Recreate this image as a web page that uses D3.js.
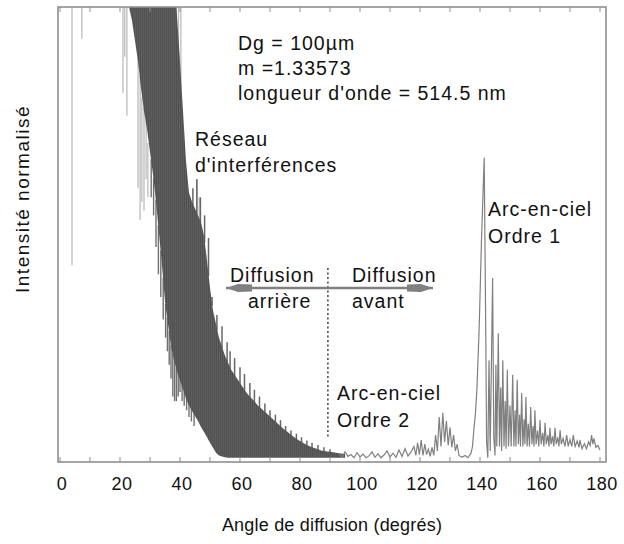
<!DOCTYPE html>
<html><head><meta charset="utf-8">
<script src="https://cdn.jsdelivr.net/npm/d3@7"></script>
<style>
body{margin:0;background:#fff}
svg{display:block}
text{font-family:"Liberation Sans",Arial,sans-serif;fill:#111}
</style>
</head><body>
<svg id="c" width="624" height="544"></svg>
<script>
// ---------- data ----------
const xTickLabels = [0,20,40,60,80,100,120,140,160,180];
const xMinorTicks = [10,30,50,70,90,110,130,150,170];

// dense interference band (upper / lower envelope, normalised intensity 0-100)
const bandAngle = [23,24,25,26,27,28,29,30,31,32,33,34,35,36,37,38,39,40,41,42,43,44,45,46,47,48,49,50,
  51,52,53,54,55,56,57,58,59,60,61,62,63,64,65,66,67,68,69,70,71,72,73,74,75,76,77,78,79,80,
  81,82,83,84,85,86,87,88,89,90,91,92,93,94,95];
const bandHigh = [102,130,140,150,150,150,150,150,150,150,150,145,140,135,125,112,98,88,77,66,59,57,55.5,54,52.5,49.5,44,38,
  33,30,27,25,23,21.5,20,19,18,17,16,15,14.2,13.5,12.8,12.0,11.4,10.8,10.2,9.6,9.0,8.4,7.8,7.2,6.6,6.1,5.6,5.1,4.6,4.2,
  3.8,3.4,3.1,2.8,2.6,2.4,2.1,2.0,1.9,1.8,1.7,1.6,1.5,1.4,1.3];
const bandLow = [100,97,92.5,88,82,77,73,68,63,57,50,43,35,30,25,22,19.5,17.5,15.5,13.5,12,10.8,9.7,8.6,7.3,6.2,5,3.8,
  2.7,1.6,1.0,0.8,0.6,0.5,0.5,0.5,0.5,0.5,0.5,0.5,0.5,0.5,0.5,0.5,0.5,0.5,0.5,0.5,0.5,0.5,0.5,0.5,0.5,0.5,0.5,0.5,0.5,0.5,
  0.5,0.5,0.5,0.5,0.5,0.5,0.5,0.5,0.5,0.5,0.5,0.5,0.5,0.5,0.5];

// fringe tips rising above the band's upper edge
const tipAngle = [44.3,45.6,46.8,48.2,49.5,50.7,52.3,54.0,55.7,56.7,58.2,60.0,61.5,63.3,64.8,66.5,68.3,70.0,71.8,73.5,
  75.2,77.0,78.8,80.5,82.3,84.0,86.0,88.0,90.0];
const tipValue = [60,62,58,54,49,36,32,29.5,26,24,22.5,20.5,19,17,15.5,14,12.5,11,10,8.8,
  7.5,6.5,5.8,5.0,4.3,3.8,3.3,2.8,2.4];

// fringe tips hanging below the band's lower edge
const dropAngle = [30.4,31.2,32.0,32.8,33.6,34.4,35.2,35.8,36.4,37.0,37.6,38.2,38.8,39.4,40.0,40.7,41.4,42.2,43.0,43.8,44.7];
const dropValue = [58,54,47,41,36,31,27,24,21,18,14,13,13,14,15,13,12,11,9.5,8.5,7.5];

// light isolated fringes
const lightSpikeAngle = [4.0,7.3,21.0,21.6,22.3,26.0,26.7,27.3,28.0,28.7,29.3,39.5,40.3,45.7,46.4];
const lightSpikeLow   = [43,93,81,89,76,60,53,57,55,62,58,80,75,50,50];
const lightSpikeHigh  = [120,120,120,120,120,90,85,80,78,75,70,105,105,62,58];

// trace from the tail to 180° (rainbows of order 2 and 1)
const traceAngle = [93,94,95,96,97,98,99,100,101,102,103,104,105,106,107,108,109,110,111,112,113,114,115,116,117,118,
  118.6,119.2,119.8,120.4,121,121.6,122.2,122.8,123.4,124,124.6,125.2,125.8,126.4,127,127.6,128.2,128.8,129.4,130,
  130.6,131.2,131.8,132.4,133,134,135,136,137,137.5,138,138.5,139,139.3,139.7,140,140.5,141.4,141.9,142.2,142.6,
  143.0,143.4,144.2,144.6,145.0,145.3,145.6,146.1,146.5,146.9,147.2,147.6,148,148.4,148.7,149.1,149.5,150.0,150.4,
  150.9,151.3,151.7,152.0,152.4,152.8,153.2,153.5,153.9,154.3,154.7,155,155.3,155.7,156.1,156.5,156.9,157.3,157.7,
  158,158.3,158.7,159.2,159.6,160,160.4,160.9,161.3,161.7,162.1,162.6,163,163.3,163.7,164.2,164.6,165,165.4,165.9,
  166.3,166.7,167.1,167.7,168.3,168.9,169.4,170,170.6,171.1,171.7,172.4,173,173.3,174,174.8,175.5,176.2,176.7,177.2,
  177.6,178,178.6,179.3,180];
const traceValue = [1.5,0.6,1.8,0.8,1.2,0.5,1.6,0.7,1.3,0.5,0.9,1.8,0.6,1.4,0.5,1.1,2.0,0.7,1.5,0.6,2.2,0.8,2.5,0.9,1.8,3.0,
  1.0,3.8,1.2,4.4,1.0,3.5,1.2,2.4,0.8,2.8,1.0,5.5,2.0,9.5,3.0,10.4,4.0,8.6,3.2,7.2,
  2.8,5.5,2.0,3.5,1.0,0.6,1.0,0.5,1.5,3,7,10.5,16,21.4,28.7,36,48.6,66.7,30,4,0.5,
  22,2,40.2,5,1,21,3,28,3,16,2,22,3,13,2.5,19.9,3,12,3,
  18.8,3,11,3,17.7,3.5,10,3,14.8,3,9,3.5,13.9,3,8,3,11.7,3.5,7.5,
  3,11,3.5,6.5,3,8.8,3.5,6,3,8.2,3.5,5.5,3,7.1,3.5,5.2,3,7.1,3.5,5,
  3,6.6,3.5,4.8,3,5.5,3,4.5,3,5.5,3,4.2,2.8,4.4,2.5,3.6,2.5,4.0,3.2,5.5,
  3.5,4.8,2.8,3.2,2.2];

// ---------- layout ----------
const svg = d3.select("#c");
const frame = {left:58, right:606, top:7, bottom:462};
const x = d3.scaleLinear().domain([0,180]).range([60,600]);
const y = d3.scaleLinear().domain([0,100]).range([460,7]);

const defs = svg.append("defs");
defs.append("clipPath").attr("id","clip").append("rect")
  .attr("x",frame.left).attr("y",frame.top).attr("width",frame.right-frame.left).attr("height",frame.bottom-frame.top);
const pat = defs.append("pattern").attr("id","stripes").attr("patternUnits","userSpaceOnUse")
  .attr("width",2).attr("height",4);
pat.append("rect").attr("width",2).attr("height",4).attr("fill","#5e5e5e");
pat.append("rect").attr("width",1).attr("height",4).attr("fill","#505050");

const plot = svg.append("g").attr("clip-path","url(#clip)");

// light spikes
plot.selectAll("line.ls").data(lightSpikeAngle).join("line").attr("class","ls")
  .attr("x1",d=>x(d)).attr("x2",d=>x(d))
  .attr("y1",(d,i)=>y(lightSpikeLow[i])).attr("y2",(d,i)=>y(lightSpikeHigh[i]))
  .attr("stroke","#b8b8b8").attr("stroke-width",1.2);

const band = bandAngle.map((a,i)=>({a, hi:bandHigh[i], lo:bandLow[i]}));
const hiAt = a => d3.scaleLinear().domain(bandAngle).range(bandHigh)(a);
const loAt = a => d3.scaleLinear().domain(bandAngle).range(bandLow)(a);

// fringe tips (drawn under the band)
plot.selectAll("line.tp").data(tipAngle).join("line").attr("class","tp")
  .attr("x1",d=>x(d)).attr("x2",d=>x(d))
  .attr("y1",d=>y(hiAt(d))+2).attr("y2",(d,i)=>y(tipValue[i]))
  .attr("stroke","#666").attr("stroke-width",1.5);
plot.selectAll("line.dp").data(dropAngle).join("line").attr("class","dp")
  .attr("x1",d=>x(d)).attr("x2",d=>x(d))
  .attr("y1",d=>y(loAt(d))-2).attr("y2",(d,i)=>y(dropValue[i]))
  .attr("stroke","#707070").attr("stroke-width",1.4);

// band
plot.append("path").datum(band)
  .attr("d", d3.area().x(d=>x(d.a)).y0(d=>y(d.lo)).y1(d=>y(d.hi)))
  .attr("fill","url(#stripes)");

// trace
const trace = traceAngle.map((a,i)=>({a, v:traceValue[i]}));
plot.append("path").datum(trace)
  .attr("d", d3.line().x(d=>x(d.a)).y(d=>y(d.v)))
  .attr("fill","none").attr("stroke","#808080").attr("stroke-width",1.2);

// frame
svg.append("rect").attr("x",frame.left).attr("y",frame.top)
  .attr("width",frame.right-frame.left).attr("height",frame.bottom-frame.top)
  .attr("fill","none").attr("stroke","#8f8f8f").attr("stroke-width",1.6);

// ticks (inward)
const allTicks = xTickLabels.concat(xMinorTicks);
svg.selectAll("line.bt").data(allTicks).join("line").attr("class","bt")
  .attr("x1",d=>x(d)).attr("x2",d=>x(d)).attr("y1",frame.bottom).attr("y2",frame.bottom-5)
  .attr("stroke","#8f8f8f").attr("stroke-width",1);
svg.selectAll("line.tt").data(allTicks).join("line").attr("class","tt")
  .attr("x1",d=>x(d)).attr("x2",d=>x(d)).attr("y1",frame.top).attr("y2",frame.top+5)
  .attr("stroke","#8f8f8f").attr("stroke-width",1);

// tick labels
svg.selectAll("text.tl").data(xTickLabels).join("text").attr("class","tl")
  .attr("x",d=>x(d)+2).attr("y",490).attr("text-anchor","middle")
  .style("font-size","18px").style("letter-spacing","0.5px").text(d=>d);

// axis titles
svg.append("text").attr("x",332).attr("y",531).attr("text-anchor","middle")
  .style("font-size","18px").style("letter-spacing","0.2px").text("Angle de diffusion (degrés)");
svg.append("text").attr("transform","translate(29,199) rotate(-90)").attr("text-anchor","middle")
  .style("font-size","19px").style("letter-spacing","1.5px").text("Intensité normalisé");

// arrow & divider
svg.append("line").attr("x1",x(89.3)).attr("x2",x(89.3)).attr("y1",268).attr("y2",438)
  .attr("stroke","#333").attr("stroke-width",1.4).attr("stroke-dasharray","2,2.5");
svg.append("line").attr("x1",226).attr("x2",433).attr("y1",288).attr("y2",288)
  .attr("stroke","#808080").attr("stroke-width",2.6);
svg.append("path").attr("d","M226,288 L238,284 L252,284.5 L252,291.5 L238,292 Z").attr("fill","#808080");
svg.append("path").attr("d","M433,288 L421,284 L407,284.5 L407,291.5 L421,292 Z").attr("fill","#808080");

// annotations
const ann = [
  ["Dg = 100µm",238,50],["m =1.33573",238,75],["longueur d'onde = 514.5 nm",238,100],
  ["Réseau",195,146],["d'interférences",195,172],
  ["Diffusion",230,282],["arrière",248,308],["Diffusion",352,282],["avant",352,308],
  ["Arc-en-ciel",337,400],["Ordre 2",337,427],
  ["Arc-en-ciel",488,216],["Ordre 1",488,243]
];
svg.selectAll("text.an").data(ann).join("text").attr("class","an")
  .attr("x",d=>d[1]).attr("y",d=>d[2]).style("font-size","19.5px").style("letter-spacing","1px")
  .text(d=>d[0]);
</script>
</body></html>
